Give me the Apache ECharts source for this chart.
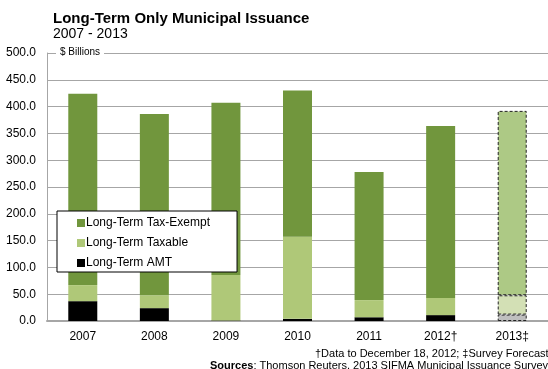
<!DOCTYPE html>
<html>
<head>
<meta charset="utf-8">
<script src="https://cdn.jsdelivr.net/npm/echarts@6/dist/echarts.min.js"></script>
<style>
  html, body { margin: 0; padding: 0; background: #fff; }
  #chart { width: 548px; height: 369px; }
</style>
</head>
<body>
<div id="chart"></div>
<script>
// Long-term municipal issuance, $ billions
const years = ['2007', '2008', '2009', '2010', '2011', '2012\u2020', '2013\u2021'];
const taxExempt = [357, 338, 321, 273, 239, 321, 344];
const taxable   = [30, 24, 85, 153, 32, 32, 36];
const amt       = [37, 24, 1, 4, 7, 11, 12];
const yTicks = [0, 50, 100, 150, 200, 250, 300, 350, 400, 450, 500];

const FONT = '"Liberation Sans", Arial, sans-serif';
const forecastIndex = years.length - 1;

// The forecast year is drawn in lighter shades with a dashed outline
const forecastColors = { exempt: '#adc985', taxable: '#d3e0b5', amt: '#bfbfbf' };

function seriesData(values, key) {
  return values.map((v, i) => {
    if (i !== forecastIndex) return v;
    return {
      value: v,
      itemStyle: {
        color: forecastColors[key],
        borderColor: '#222',
        borderWidth: 1,
        borderType: [3, 2]
      }
    };
  });
}

const chart = echarts.init(document.getElementById('chart'), null, { renderer: 'canvas' });

const barCommon = {
  type: 'bar',
  stack: 'total',
  barWidth: 29,
  animation: false
};

chart.setOption({
  animation: false,
  textStyle: { fontFamily: FONT },
  grid: { left: 47, right: 0, top: 53, bottom: 48, containLabel: false },
  xAxis: {
    type: 'category',
    data: years,
    axisLine: { show: true, lineStyle: { color: '#a6a6a6', width: 2 } },
    axisTick: { show: false },
    axisLabel: { color: '#000', fontSize: 12, fontFamily: FONT, margin: 10 }
  },
  yAxis: {
    type: 'value',
    min: yTicks[0],
    max: yTicks[yTicks.length - 1],
    interval: yTicks[1] - yTicks[0],
    axisLine: { show: true, lineStyle: { color: '#a6a6a6', width: 1 } },
    axisTick: { show: false },
    axisLabel: {
      color: '#000', fontSize: 12, fontFamily: FONT, margin: 11,
      formatter: v => v.toFixed(1)
    },
    splitLine: { show: true, lineStyle: { color: '#a6a6a6', width: 1 } }
  },
  legend: {
    orient: 'vertical',
    left: 57,
    top: 211,
    padding: [5, 27, 2, 20],
    itemGap: 6,
    itemWidth: 8,
    itemHeight: 8,
    icon: 'rect',
    backgroundColor: '#fff',
    borderColor: '#000',
    borderWidth: 1,
    borderRadius: 0,
    textStyle: { color: '#000', fontSize: 12, fontFamily: FONT, lineHeight: 14, padding: [0, 0, 0, -4] },
    data: ['Long-Term Tax-Exempt', 'Long-Term Taxable', 'Long-Term AMT']
  },
  series: [
    Object.assign({}, barCommon, {
      name: 'Long-Term AMT',
      itemStyle: { color: '#000000' },
      data: seriesData(amt, 'amt')
    }),
    Object.assign({}, barCommon, {
      name: 'Long-Term Taxable',
      itemStyle: { color: '#afc878' },
      data: seriesData(taxable, 'taxable')
    }),
    Object.assign({}, barCommon, {
      name: 'Long-Term Tax-Exempt',
      itemStyle: { color: '#71963d' },
      data: seriesData(taxExempt, 'exempt')
    })
  ],
  graphic: [
    {
      type: 'text', left: 53, top: 11, z: 100,
      style: { text: 'Long-Term Only Municipal Issuance', fill: '#000',
               font: 'bold 15px ' + FONT }
    },
    {
      type: 'text', left: 53, top: 27, z: 100,
      style: { text: '2007 - 2013', fill: '#000', font: '14px ' + FONT }
    },
    {
      type: 'text', left: 56, top: 46, z: 100,
      style: { text: '$ Billions', fill: '#000', font: '10px ' + FONT,
               backgroundColor: '#fff', padding: [1, 4, 1, 4] }
    },
    {
      type: 'text', left: 315, top: 348, z: 100,
      style: { text: '\u2020Data to December 18, 2012; \u2021Survey Forecast',
               fill: '#000', font: '11px ' + FONT }
    },
    {
      type: 'text', left: 210, top: 360, z: 100,
      style: {
        text: '{b|Sources}: Thomson Reuters, 2013 SIFMA Municipal Issuance Survey',
        fill: '#000', font: '11px ' + FONT,
        rich: { b: { fontWeight: 'bold', fontSize: 11, fontFamily: FONT } }
      }
    }
  ]
});
</script>
</body>
</html>
